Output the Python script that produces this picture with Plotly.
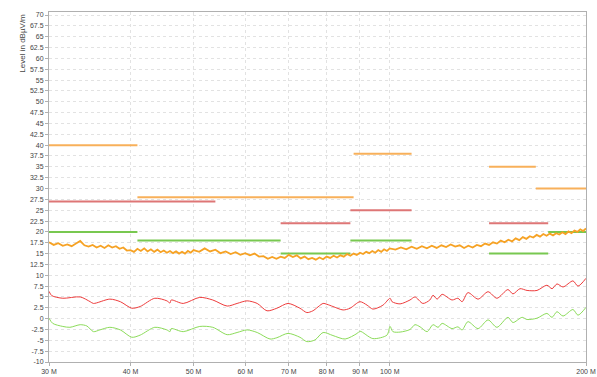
import plotly.graph_objects as go
import math

# --- measured traces (frequency in MHz, level in dBuV/m) ---
peak_freq = (
    [30 + 0.5 * i for i in range(41)]
    + list(range(51, 101))
    + list(range(102, 201, 2))
)
peak_level = [
    17.6, 17.0, 17.4, 16.8, 17.1, 16.7, 17.3, 17.9, 16.9, 16.6,
    17.0, 16.4, 16.8, 16.3, 16.9, 16.4, 16.7, 16.1, 16.4, 15.7,
    15.8, 15.4, 16.1, 15.6, 16.2, 15.5, 16.0, 15.4, 15.9, 15.3,
    15.7, 15.2, 15.6, 15.1, 15.5, 15.0, 15.4, 15.0, 15.6, 15.2,
    15.8,
    15.4, 16.2, 15.5, 15.9, 15.1, 15.5, 14.9, 15.3, 14.7, 15.1,
    14.6, 15.0, 14.3, 14.4, 13.8, 14.2, 13.8, 14.3, 14.0, 14.7,
    14.2, 14.6, 13.9, 14.3, 13.7, 14.0, 13.6, 14.1, 13.7, 14.3,
    14.0, 14.5, 14.1, 14.6, 14.3, 14.9, 14.5, 15.0, 14.7, 15.2,
    14.9, 15.4, 15.1, 15.6, 15.2, 15.8, 15.4, 16.0, 15.6, 16.2,
    15.9, 16.4, 16.0, 16.6, 16.1, 16.7, 16.2, 16.8, 16.3, 16.9,
    16.5, 17.1, 16.6, 16.9, 16.3, 16.8, 16.4, 17.0, 16.7, 17.3,
    17.0, 17.6, 17.3, 18.0, 17.6, 18.2, 17.8, 18.5, 18.1, 18.8,
    18.4, 19.0, 18.7, 19.3, 18.9, 19.5, 19.1, 19.6, 19.2, 19.7,
    19.4, 19.9, 19.5, 20.1, 19.7, 20.3, 20.0, 20.6, 20.2, 20.8,
]

qp_freq = [
    30.0, 30.3, 31.5, 33.5, 34.7, 35.1, 37.2, 38.6, 40.2, 41.4,
    43.6, 45.5, 46.0, 46.2, 48.2, 51.1, 53.5, 56.3, 58.3, 60.4,
    62.6, 64.8, 67.1, 69.8, 72.8, 74.6, 76.2, 79.0, 80.1, 81.8,
    84.8, 86.9, 90.0, 92.3, 94.2, 97.6, 100.1, 100.8, 103.7, 107.4,
    109.3, 112.4, 115.2, 116.5, 118.2, 120.3, 124.6, 127.2, 129.1, 131.8,
    136.6, 141.5, 146.0, 151.8, 154.5, 158.4, 162.4, 168.2, 174.2, 177.4,
    180.5, 184.4, 191.0, 194.4, 200.0,
]
qp_level = [
    6.3, 5.3, 4.7, 5.0, 3.9, 3.5, 4.5, 3.9, 2.4, 2.8,
    4.7, 4.1, 3.6, 4.3, 3.5, 4.9, 4.3, 2.9, 3.5, 4.1,
    3.5, 1.8, 2.4, 3.5, 2.4, 1.4, 1.8, 3.5, 3.3, 2.8,
    2.0, 2.4, 3.9, 3.1, 2.2, 3.1, 4.7, 3.9, 3.4, 4.3,
    5.0, 3.5, 4.3, 5.4, 4.5, 5.6, 4.3, 4.7, 3.9, 6.0,
    4.5, 6.2, 4.7, 6.7, 5.7, 6.9, 6.5, 6.5, 7.7, 6.9,
    8.0, 7.3, 8.7, 7.5, 9.3,
]

avg_freq = [
    30.0, 30.4, 31.5, 32.3, 33.5, 34.3, 35.1, 35.9, 37.2, 38.6,
    40.2, 41.4, 43.6, 45.5, 46.0, 46.2, 48.2, 51.1, 53.5, 56.3,
    58.3, 60.4, 62.6, 65.5, 67.1, 69.8, 72.8, 74.6, 76.8, 79.0,
    81.8, 85.4, 89.1, 90.0, 94.2, 99.0, 100.1, 101.1, 103.7, 107.4,
    109.3, 111.3, 114.1, 116.5, 118.6, 120.3, 124.6, 127.2, 129.1, 131.8,
    136.6, 141.5, 146.0, 151.8, 154.5, 159.6, 162.4, 168.2, 174.2, 177.4,
    180.5, 184.4, 191.0, 194.4, 200.0,
]
avg_level = [
    0.1, -1.1, -1.8, -2.0, -1.4, -1.7, -3.0, -2.6, -2.0, -2.6,
    -4.3, -3.8, -2.0, -2.6, -3.0, -2.3, -3.0, -1.8, -2.0, -3.7,
    -3.2, -2.6, -3.2, -4.7, -4.4, -3.4, -4.3, -5.3, -4.9, -3.2,
    -3.9, -4.7, -3.4, -2.9, -4.6, -3.8, -1.8, -3.0, -3.1, -2.5,
    -1.4, -1.9, -3.0, -1.4, -2.0, -1.1, -2.3, -1.9, -2.6, -0.7,
    -2.3, -0.3, -2.0, 0.3, -0.9, 0.3, -0.2, 0.1, 1.2, 0.3,
    1.6, 0.6, 2.1, 0.8, 2.6,
]

# --- limit bands: (start MHz, stop MHz, level) ---
limit_peak = [(30, 41, 40), (41, 88, 28), (88, 108, 38), (142, 167.5, 35), (167.5, 200, 30)]
limit_qp = [(30, 54, 27), (68, 87, 22), (87, 108, 25), (142, 175, 22)]
limit_avg = [(30, 41, 20), (41, 68, 18), (68, 87, 15), (87, 108, 18), (142, 175, 15), (175, 200, 20)]

y_ticks = [-10 + 2.5 * i for i in range(33)]
x_ticks = [30, 40, 50, 60, 70, 80, 90, 100, 200]
x_labels = [f"{v} M" for v in x_ticks]


def fmt(v):
    return str(int(v)) if float(v).is_integer() else f"{v:.1f}"


def segments(bands):
    xs, ys = [], []
    for a, b, lvl in bands:
        xs += [a, b, None]
        ys += [lvl, lvl, None]
    return xs, ys


fig = go.Figure()

for bands, color in [
    (limit_peak, "rgb(248,176,90)"),
    (limit_qp, "rgb(222,118,118)"),
    (limit_avg, "rgb(120,200,80)"),
]:
    sx, sy = segments(bands)
    fig.add_trace(go.Scatter(x=sx, y=sy, mode="lines",
                             line=dict(color=color, width=2),
                             hoverinfo="skip", showlegend=False))

fig.add_trace(go.Scatter(x=peak_freq, y=peak_level, mode="lines",
                         line=dict(color="rgb(246,162,36)", width=1.8),
                         showlegend=False))
fig.add_trace(go.Scatter(x=qp_freq, y=qp_level, mode="lines",
                         line=dict(color="rgb(238,60,60)", width=1,
                                   shape="spline", smoothing=0.8),
                         showlegend=False))
fig.add_trace(go.Scatter(x=avg_freq, y=avg_level, mode="lines",
                         line=dict(color="rgb(140,220,90)", width=1,
                                   shape="spline", smoothing=0.8),
                         showlegend=False))

fig.update_layout(
    width=597, height=377,
    margin=dict(l=49, r=11, t=12, b=15, autoexpand=False),
    paper_bgcolor="white", plot_bgcolor="white",
    font=dict(family="Liberation Sans, Arial, sans-serif", size=7, color="#444"),
    showlegend=False,
)

fig.update_xaxes(
    type="log", automargin=False,
    range=[math.log10(30), math.log10(200)],
    tickvals=x_ticks, ticktext=x_labels,
    showgrid=True, gridcolor="#e2e2e2", griddash="dot", gridwidth=1,
    showline=True, linecolor="#b0b0b0", linewidth=1, mirror=True,
    ticks="outside", ticklen=3, tickcolor="#b0b0b0",
    zeroline=False,
)
fig.update_yaxes(
    automargin=False,
    range=[-10, 70.7],
    tickvals=y_ticks, ticktext=[fmt(v) for v in y_ticks],
    showgrid=True, gridcolor="#e2e2e2", griddash="dot", gridwidth=1,
    showline=True, linecolor="#b0b0b0", linewidth=1, mirror=True,
    ticks="outside", ticklen=3, tickcolor="#b0b0b0",
    zeroline=False,
)

fig.add_annotation(
    text="Level in dBµV/m", textangle=-90,
    xref="paper", yref="paper", x=-0.05, y=1.0,
    xanchor="center", yanchor="top", showarrow=False,
    font=dict(size=8, color="#444"),
)

fig.write_html("out.html")
